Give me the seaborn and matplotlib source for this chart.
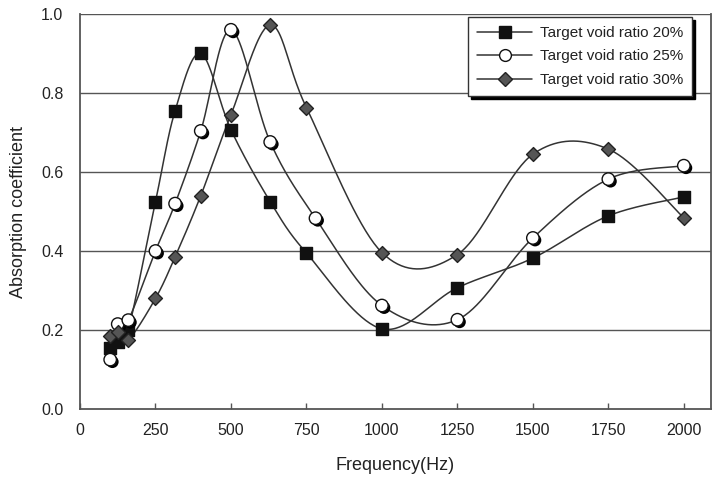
import numpy as np
import pandas as pd
import matplotlib
matplotlib.use("Agg")
import matplotlib.pyplot as plt
import matplotlib.patheffects as pe
from matplotlib.lines import Line2D
import seaborn as sns

# ---- data ----
freq_20 = [100, 125, 160, 250, 315, 400, 500, 630, 750, 1000, 1250, 1500, 1750, 2000]
abs_20 = [0.155, 0.17, 0.20, 0.525, 0.755, 0.90, 0.707, 0.525, 0.395, 0.203, 0.307, 0.382, 0.489, 0.537]

freq_25 = [100, 125, 160, 250, 315, 400, 500, 630, 780, 1000, 1250, 1500, 1750, 2000]
abs_25 = [0.125, 0.215, 0.225, 0.40, 0.52, 0.704, 0.96, 0.676, 0.483, 0.262, 0.226, 0.433, 0.582, 0.616]

freq_30 = [100, 125, 160, 250, 315, 400, 500, 630, 750, 1000, 1250, 1500, 1750, 2000]
abs_30 = [0.185, 0.195, 0.175, 0.28, 0.385, 0.54, 0.745, 0.972, 0.763, 0.396, 0.391, 0.645, 0.658, 0.484]

labels = ["Target void ratio 20%", "Target void ratio 25%", "Target void ratio 30%"]
x_ticks = [0, 250, 500, 750, 1000, 1250, 1500, 1750, 2000]
y_ticks = [0.0, 0.2, 0.4, 0.6, 0.8, 1.0]

XMAX = 2090
sns.set_theme(style="white")
plt.rcParams["font.family"] = ["Liberation Sans", "DejaVu Sans"]

fig = plt.figure(figsize=(7.23, 4.86), dpi=100)
ax = fig.add_axes([80 / 723, 1 - 409 / 486, 631 / 723, 395 / 486])


def smooth(xs, ys, n=40):
    """Excel-like smoothed line (Catmull-Rom Bezier) computed in screen-scaled space."""
    sx = 631.0 / XMAX
    sy = 395.0
    P = np.column_stack([np.asarray(xs, float) * sx, np.asarray(ys, float) * sy])
    out = []
    m = len(P)
    t = np.linspace(0, 1, n)[:, None]
    for i in range(m - 1):
        p0 = P[i - 1] if i > 0 else P[i]
        p1, p2 = P[i], P[i + 1]
        p3 = P[i + 2] if i + 2 < m else P[i + 1]
        c1 = p1 + (p2 - p0) / 6.0
        c2 = p2 - (p3 - p1) / 6.0
        seg = ((1 - t) ** 3) * p1 + 3 * ((1 - t) ** 2) * t * c1 + 3 * (1 - t) * t ** 2 * c2 + t ** 3 * p2
        out.append(seg if i == 0 else seg[1:])
    S = np.vstack(out)
    return S[:, 0] / sx, S[:, 1] / sy


series = [
    (freq_20, abs_20, dict(marker="s", s=66, color="#111111", edgecolor="#111111"), False),
    (freq_25, abs_25, dict(marker="o", s=80, color="white", edgecolor="#111111"), True),
    (freq_30, abs_30, dict(marker="D", s=50, color="#555555", edgecolor="#222222"), False),
]

for fx, fy, mk, shadow in series:
    cx, cy = smooth(fx, fy)
    sns.lineplot(x=cx, y=cy, ax=ax, sort=False, estimator=None, color="#333333", lw=1.1, zorder=2)

for fx, fy, mk, shadow in series:
    pc = sns.scatterplot(x=fx, y=fy, ax=ax, linewidth=1.0, zorder=4, **mk)
    if shadow:
        pc.collections[-1].set_path_effects([
            pe.SimplePatchShadow(offset=(1.6, -1.6), shadow_rgbFace="black", alpha=1.0),
            pe.Normal(),
        ])

ax.set_xlim(0, XMAX)
ax.set_ylim(0, 1.0)
ax.set_xticks(x_ticks)
ax.set_xticklabels([str(v) for v in x_ticks], fontsize=11.5, color="#222222")
ax.set_yticks(y_ticks)
ax.set_yticklabels([f"{v:.1f}" for v in y_ticks], fontsize=11.5, color="#222222")
ax.tick_params(axis="x", direction="in", length=4, width=1, color="#555555", pad=10, bottom=True)
ax.tick_params(axis="y", length=0, pad=12)

for yv in y_ticks[1:]:
    ax.axhline(yv, color="#555555", lw=1.0, zorder=1)

for side in ["left", "bottom", "right"]:
    ax.spines[side].set_visible(True)
    ax.spines[side].set_color("#555555")
    ax.spines[side].set_linewidth(1.3)
ax.spines["top"].set_visible(False)

ax.set_xlabel("Frequency(Hz)", fontsize=13, color="#222222", labelpad=14)
ax.set_ylabel("Absorption coefficient", fontsize=13, color="#222222", labelpad=10)

handles = [
    Line2D([0], [0], color="#333333", lw=1.1, marker="s", markersize=8,
           markerfacecolor="#111111", markeredgecolor="#111111"),
    Line2D([0], [0], color="#333333", lw=1.1, marker="o", markersize=8.5,
           markerfacecolor="white", markeredgecolor="#111111"),
    Line2D([0], [0], color="#333333", lw=1.1, marker="D", markersize=7,
           markerfacecolor="#555555", markeredgecolor="#222222"),
]
leg = ax.legend(handles, labels, loc="upper right", bbox_to_anchor=(0.97, 0.993),
                borderaxespad=0, fontsize=11, frameon=True, fancybox=False,
                shadow={"color": "black", "alpha": 1.0}, handlelength=3.6,
                labelspacing=0.62, borderpad=0.6, handletextpad=0.5)
leg.get_frame().set_edgecolor("#333333")
leg.get_frame().set_linewidth(1.0)
for t in leg.get_texts():
    t.set_color("#222222")

fig.savefig("out.png", dpi=100)
